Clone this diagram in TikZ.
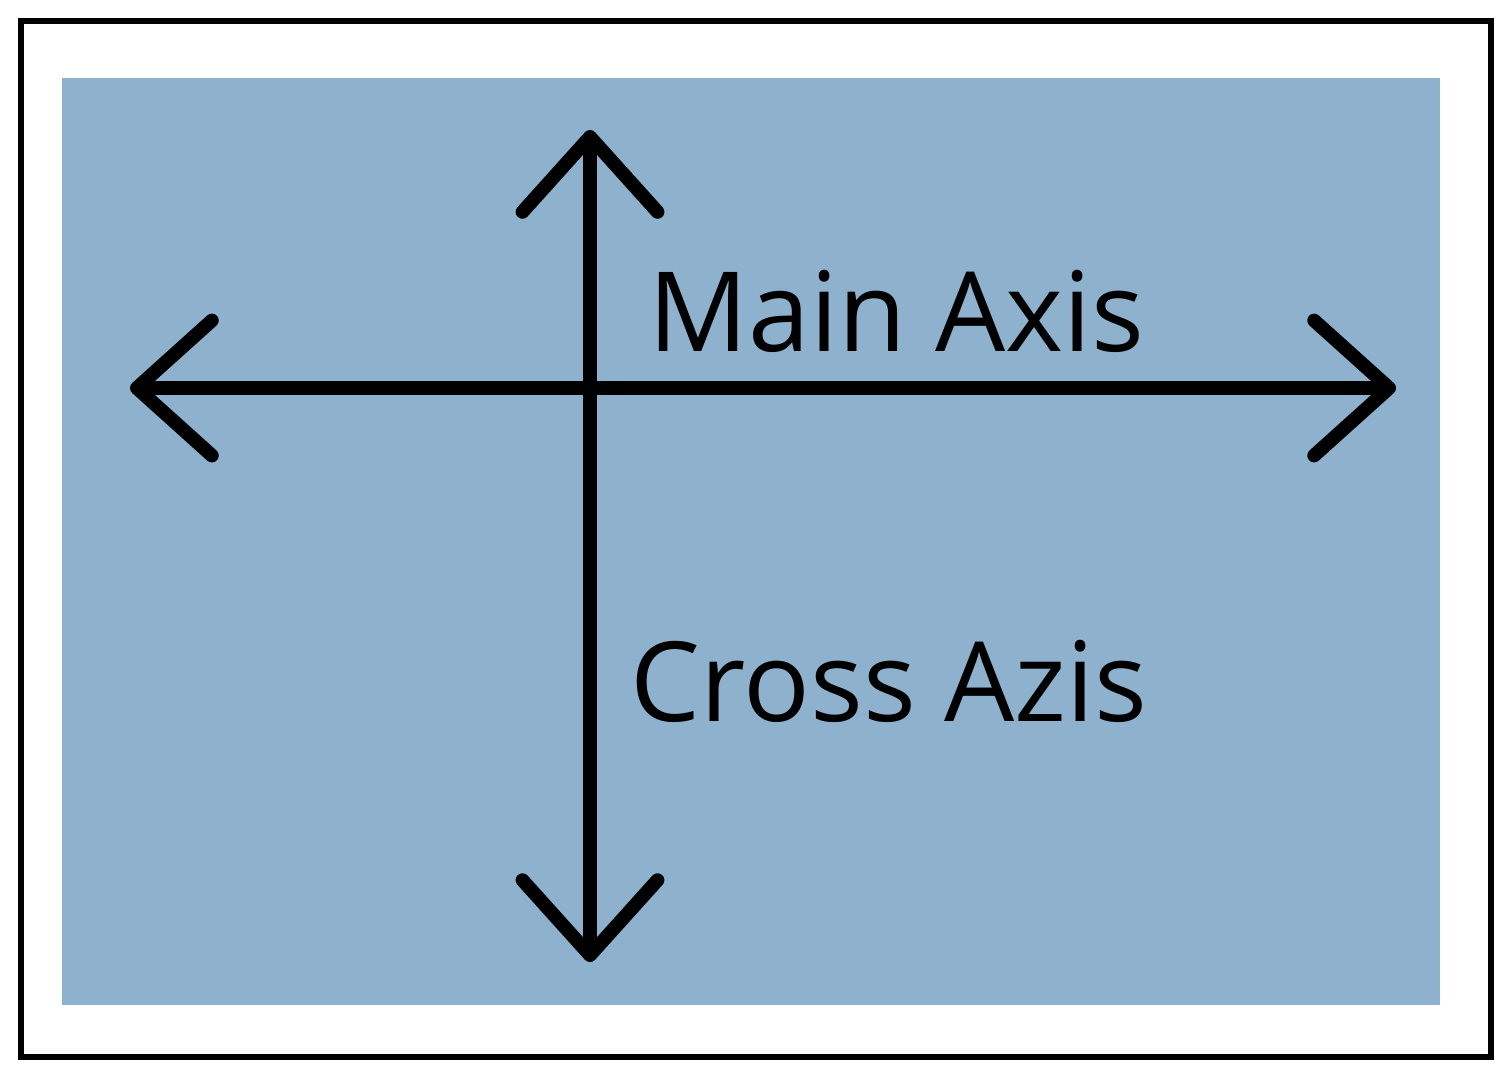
\documentclass[tikz,border=0pt]{standalone}
\usepackage{fontspec}
\setmainfont{Open Sans}
\usetikzlibrary{arrows.meta}
\definecolor{panelblue}{HTML}{8EB2CD}
\begin{document}
\begin{tikzpicture}[
    x=0.01cm, y=-0.01cm,
    axis/.style={
        line width=3.9pt,
        line cap=round,
        line join=round,
        {Straight Barb[round,length=7.5mm,width=13.5mm]}-{Straight Barb[round,length=7.5mm,width=13.5mm]}
    },
    lbl/.style={anchor=base west, inner sep=0pt, font=\fontsize{31.5}{38}\selectfont}
]
    \useasboundingbox (0,0) rectangle (1510,1078);
    \draw[line width=1.6pt] (21,21) rectangle (1491,1057);
    \fill[panelblue] (62,78) rectangle (1440,1005);

    % axes
    \coordinate (west) at (130,388);
    \coordinate (east) at (1396,388);
    \coordinate (north) at (590,130);
    \coordinate (south) at (590,962);
    \draw[axis] (west) -- (east);
    \draw[axis] (north) -- (south);

    \node[lbl] (main) at (648,351) {Main Axis};
    \node[lbl] (cross) at (630,721) {Cross Azis};
\end{tikzpicture}
\end{document}
